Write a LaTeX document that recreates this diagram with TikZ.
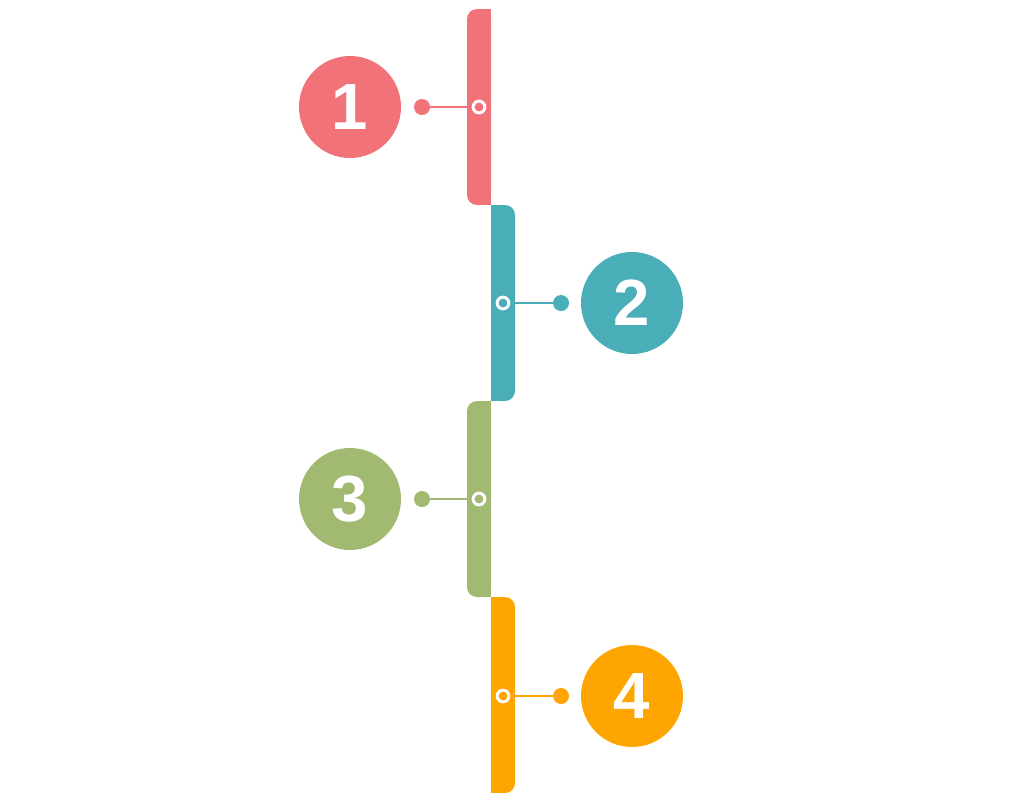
\documentclass[tikz,border=0pt]{standalone}
\usepackage{fontspec}
\setmainfont{Liberation Sans}
\usepackage{tikz}

\definecolor{stepred}{HTML}{F27279}
\definecolor{stepteal}{HTML}{4AAEB9}
\definecolor{stepgreen}{HTML}{A2B972}
\definecolor{steporange}{HTML}{FEA500}

\tikzset{
  badge/.style={circle, fill=#1, text=white, inner sep=0pt, minimum size=76.5pt,
    font=\bfseries\fontsize{49}{49}\selectfont},
  link/.style={draw=#1, line width=2pt},
  dot/.style={fill=#1},
  ring/.style={draw=white, fill=#1, line width=2.2pt},
}

\begin{document}
\begin{tikzpicture}[x=0.75pt, y=-0.75pt]
    \useasboundingbox (0, 0) rectangle (1020, 800);
    % step 1
    \fill [stepred, rounded corners=7.5pt] (467, 9) rectangle (491, 205);
    \fill [stepred]  (479, 9) rectangle (491, 205);
    \node [badge=stepred] (b1) at (350, 107) {1};
    \coordinate (d1) at (422, 107);
    \coordinate (r1) at (479, 107);
    \draw [link=stepred]   (d1) -- (r1);
    \fill [dot=stepred]    (d1) circle (6pt);
    \draw [ring=stepred]   (r1) circle (4.4pt);
    % step 2
    \fill [stepteal, rounded corners=7.5pt] (491, 205) rectangle (515, 401);
    \fill [stepteal] (491, 205) rectangle (503, 401);
    \node [badge=stepteal] (b2) at (632, 303) {2};
    \coordinate (d2) at (561, 303);
    \coordinate (r2) at (503, 303);
    \draw [link=stepteal]  (d2) -- (r2);
    \fill [dot=stepteal]   (d2) circle (6pt);
    \draw [ring=stepteal]  (r2) circle (4.4pt);
    % step 3
    \fill [stepgreen, rounded corners=7.5pt] (467, 401) rectangle (491, 597);
    \fill [stepgreen] (479, 401) rectangle (491, 597);
    \node [badge=stepgreen] (b3) at (350, 499) {3};
    \coordinate (d3) at (422, 499);
    \coordinate (r3) at (479, 499);
    \draw [link=stepgreen] (d3) -- (r3);
    \fill [dot=stepgreen]  (d3) circle (6pt);
    \draw [ring=stepgreen] (r3) circle (4.4pt);
    % step 4
    \fill [steporange, rounded corners=7.5pt] (491, 597) rectangle (515, 793);
    \fill [steporange] (491, 597) rectangle (503, 793);
    \node [badge=steporange] (b4) at (632, 696) {4};
    \coordinate (d4) at (561, 696);
    \coordinate (r4) at (503, 696);
    \draw [link=steporange] (d4) -- (r4);
    \fill [dot=steporange]  (d4) circle (6pt);
    \draw [ring=steporange] (r4) circle (4.4pt);
\end{tikzpicture}
\end{document}
